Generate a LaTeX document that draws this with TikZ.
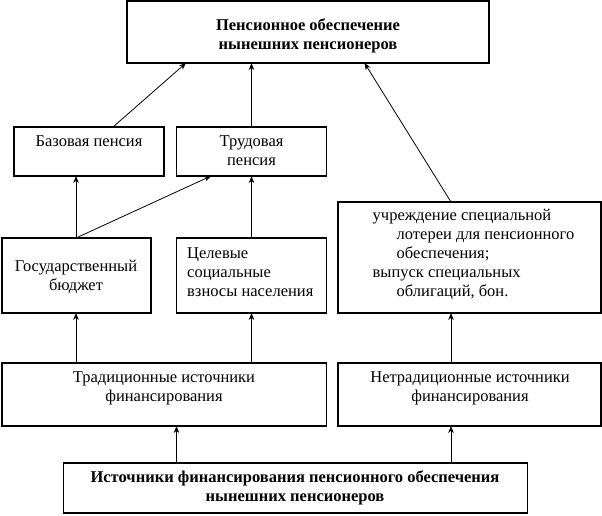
\documentclass[tikz,border=0pt]{standalone}
\usepackage{fontspec}
\setmainfont{Liberation Serif}
\usetikzlibrary{arrows.meta}
\begin{document}
\begin{tikzpicture}[x=1pt,y=-1pt,
  box/.style={draw,line width=1.1pt,anchor=north west,inner sep=0pt,outer sep=0pt},
  txt/.style={inner sep=0pt,font=\fontsize{16.5}{19}\selectfont,align=center},
  txtl/.style={inner sep=0pt,font=\fontsize{16.5}{19}\selectfont,align=left,anchor=west},
  arr/.style={line width=0.8pt,-{Stealth[length=7pt,width=5.5pt]}}]
\useasboundingbox (0,0) rectangle (602,515);
% boxes
\node[box,minimum width=362pt,minimum height=62pt] (top) at (127,1) {};
\node[box,minimum width=150pt,minimum height=49pt] (baz) at (14,127) {};
\node[box,minimum width=150pt,minimum height=49pt] (trud) at (176.5,127) {};
\node[box,minimum width=149pt,minimum height=75pt] (gos) at (2,238) {};
\node[box,minimum width=150pt,minimum height=75pt] (cel) at (176.5,238) {};
\node[box,minimum width=263pt,minimum height=111pt] (right) at (338,202) {};
\node[box,minimum width=324.5pt,minimum height=63pt] (trad) at (2,363) {};
\node[box,minimum width=263pt,minimum height=63pt] (netrad) at (338,363) {};
\node[box,minimum width=464pt,minimum height=50pt] (bot) at (63.5,463) {};
% texts
\node[txt,font=\fontsize{16.5}{19}\selectfont\bfseries] (ttop) at (308,36) {Пенсионное обеспечение\\нынешних пенсионеров};
\node[txt] (tbaz) at (89,141) {Базовая пенсия};
\node[txt] (ttrud) at (251.5,150.5) {Трудовая\\пенсия};
\node[txt] (tgos) at (76,277) {Государственный\\бюджет};
\node[txtl] (tcel) at (187,272.5) {Целевые\\социальные\\взносы населения};
\node[txtl] (tright) at (372.5,254.5) {учреждение специальной\\\hspace*{24pt}лотереи для пенсионного\\\hspace*{24pt}обеспечения;\\выпуск специальных\\\hspace*{24pt}облигаций, бон.};
\node[txt] (ttrad) at (164,388.5) {Традиционные источники\\финансирования};
\node[txt] (tnetrad) at (470,388.5) {Нетрадиционные источники\\финансирования};
\node[txt,font=\fontsize{16.5}{19}\selectfont\bfseries] (tbot) at (295,487.5) {Источники финансирования пенсионного обеспечения\\нынешних пенсионеров};
% arrows
\draw[arr] ([xshift=99pt]baz.north west) -- ([xshift=59pt]top.south west);
\draw[arr] (trud.north) -- ([xshift=124.5pt]top.south west);
\draw[arr] ([xshift=113pt]right.north west) -- ([xshift=237.5pt]top.south west);
\draw[arr] ([xshift=74pt]gos.north west) -- ([xshift=62pt]baz.south west);
\draw[arr] ([xshift=74pt]gos.north west) -- ([xshift=34.5pt]trud.south west);
\draw[arr] (cel.north) -- (trud.south);
\draw[arr] ([xshift=74pt]trad.north west) -- ([xshift=74pt]gos.south west);
\draw[arr] ([xshift=249.5pt]trad.north west) -- (cel.south);
\draw[arr] ([xshift=113pt]netrad.north west) -- ([xshift=113pt]right.south west);
\draw[arr] ([xshift=113pt]bot.north west) -- ([xshift=174.5pt]trad.south west);
\draw[arr] ([xshift=387.5pt]bot.north west) -- ([xshift=113pt]netrad.south west);
\end{tikzpicture}
\end{document}
